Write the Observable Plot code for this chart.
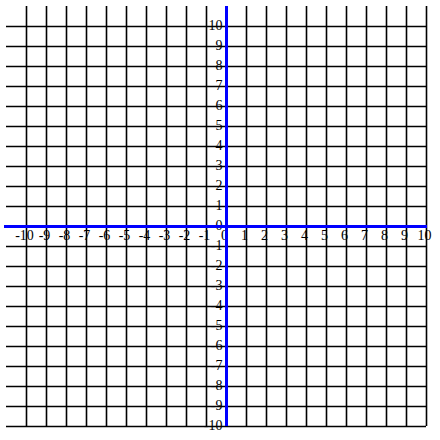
<!DOCTYPE html>
<html>
<head>
<meta charset="utf-8">
<script src="https://cdn.jsdelivr.net/npm/d3@7"></script>
<script src="https://cdn.jsdelivr.net/npm/@observablehq/plot@0.6"></script>
<style>
  html, body { margin: 0; padding: 0; background: #fff; }
  #chart svg { display: block; }
</style>
</head>
<body>
<div id="chart"></div>
<script>
const xGridLines = [-10, -9, -8, -7, -6, -5, -4, -3, -2, -1, 0, 1, 2, 3, 4, 5, 6, 7, 8, 9, 10];
const yGridLines = [-10, -9, -8, -7, -6, -5, -4, -3, -2, -1, 0, 1, 2, 3, 4, 5, 6, 7, 8, 9, 10];
const xTickLabels = [-10, -9, -8, -7, -6, -5, -4, -3, -2, -1, 0, 1, 2, 3, 4, 5, 6, 7, 8, 9, 10];
const yTickLabels = [-10, -9, -8, -7, -6, -5, -4, -3, -2, -1, 0, 1, 2, 3, 4, 5, 6, 7, 8, 9, 10];
const xDomain = [-11, 10];
const yDomain = [-10, 11];

const chart = Plot.plot({
  width: 440,
  height: 440,
  marginLeft: 6,
  marginRight: 14,
  marginTop: 6,
  marginBottom: 14,
  x: {domain: xDomain, axis: null},
  y: {domain: yDomain, axis: null},
  style: {background: "#fff", fontFamily: "'Liberation Serif', 'DejaVu Serif', serif"},
  marks: [
    Plot.ruleX(xGridLines, {x: d => d, y1: yDomain[0], y2: yDomain[1], stroke: "#000", strokeWidth: 1.6}),
    Plot.ruleY(yGridLines, {y: d => d, x1: xDomain[0], x2: xDomain[1], stroke: "#000", strokeWidth: 1.6}),
    Plot.text(xTickLabels, {x: d => d, y: 0, text: d => String(d), dx: -2, dy: 9, fontSize: 14, fill: "#000", textAnchor: "middle", lineAnchor: "middle"}),
    Plot.text(yTickLabels, {x: 0, y: d => d, text: d => String(d), dx: -4, dy: -1, fontSize: 14, fill: "#000", textAnchor: "end", lineAnchor: "middle"}),
    Plot.ruleX([0], {x: d => d, y1: yDomain[0], y2: yDomain[1], stroke: "#0000ff", strokeWidth: 3}),
    Plot.ruleY([0], {y: d => d, x1: xDomain[0] - 0.1, x2: xDomain[1] + 0.05, stroke: "#0000ff", strokeWidth: 3})
  ]
});
document.getElementById("chart").appendChild(chart);
</script>
</body>
</html>
